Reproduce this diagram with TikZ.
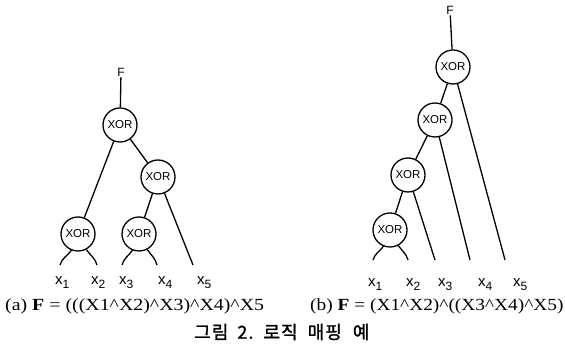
\documentclass[tikz,border=0pt]{standalone}
\usepackage{fontspec}
\setmainfont{Liberation Serif}
\setsansfont{Liberation Sans}
\newfontfamily\krfont[FakeBold=1.5,LetterSpace=6]{Noto Sans CJK KR}
\newcommand{\lsub}[1]{\raisebox{-4pt}{\fontsize{12}{12}\selectfont #1}}
\newcommand{\crt}{\textasciicircum}
\tikzset{
  xor/.style={circle, draw, line width=1.3pt, minimum size=34pt, inner sep=0pt,
    font=\sffamily\fontsize{11.5}{11.5}\selectfont},
  edge/.style={line width=1.3pt},
  leaf/.style={font=\sffamily\fontsize{15}{15}\selectfont, inner sep=0pt, anchor=base west},
  flabel/.style={font=\sffamily\fontsize{12}{12}\selectfont, inner sep=1pt},
  capt/.style={inner sep=0pt, anchor=west}
}
\begin{document}
\begin{tikzpicture}[x=1pt,y=1pt]
\useasboundingbox (0,0) rectangle (565,345);
% ---------- left tree ----------
\node[flabel] (Fa) at (121,273) {F};
\node[xor] (A1) at (120,220) {XOR};
\node[xor] (A2) at (158,168) {XOR};
\node[xor] (A3) at (78,111) {XOR};
\node[xor] (A4) at (139,111) {XOR};
\coordinate (a1e) at (60,80);
\coordinate (a2e) at (97,80);
\coordinate (a3e) at (122,80);
\coordinate (a4e) at (157,80);
\coordinate (a5e) at (193,80);
\draw[edge] (Fa) -- (A1);
\draw[edge] (A1) -- (A2);
\draw[edge] (A1) -- (A3);
\draw[edge] (A2) -- (A4);
\draw[edge] (A2) -- (a5e);
\draw[edge] (A3.-112) to[out=-125,in=75] (a1e);
\draw[edge] (A3.-62) to[out=-55,in=105] (a2e);
\draw[edge] (A4.-112) to[out=-125,in=75] (a3e);
\draw[edge] (A4.-62) to[out=-55,in=105] (a4e);
\node[leaf] (la1) at (55,60) {x\lsub{1}};
\node[leaf] (la2) at (91,60) {x\lsub{2}};
\node[leaf] (la3) at (119,60) {x\lsub{3}};
\node[leaf] (la4) at (158,60) {x\lsub{4}};
\node[leaf] (la5) at (197,60) {x\lsub{5}};
% ---------- right tree ----------
\node[flabel] (Fb) at (450,335) {F};
\node[xor] (B1) at (453,278) {XOR};
\node[xor] (B2) at (435,225) {XOR};
\node[xor] (B3) at (408,170) {XOR};
\node[xor] (B4) at (390,115) {XOR};
\coordinate (b1e) at (373,85);
\coordinate (b2e) at (408,85);
\coordinate (b3e) at (435,85);
\coordinate (b4e) at (470,85);
\coordinate (b5e) at (505,85);
\draw[edge] (Fb) -- (B1);
\draw[edge] (B1) -- (B2);
\draw[edge] (B2) -- (B3);
\draw[edge] (B3) -- (B4);
\draw[edge] (B1) -- (b5e);
\draw[edge] (B2) -- (b4e);
\draw[edge] (B3) -- (b3e);
\draw[edge] (B4.-112) to[out=-125,in=75] (b1e);
\draw[edge] (B4.-62) to[out=-55,in=105] (b2e);
\node[leaf] (lb1) at (368,58) {x\lsub{1}};
\node[leaf] (lb2) at (406,58) {x\lsub{2}};
\node[leaf] (lb3) at (438,58) {x\lsub{3}};
\node[leaf] (lb4) at (478,58) {x\lsub{4}};
\node[leaf] (lb5) at (513,58) {x\lsub{5}};
% ---------- captions ----------
\node[capt] (ca) at (5,39) {\scalebox{1.17}[1]{\fontsize{17}{17}\selectfont (a) \textbf{F} = (((X1\crt X2)\crt X3)\crt X4)\crt X5}};
\node[capt] (cb) at (310,39) {\scalebox{1.14}[1]{\fontsize{17}{17}\selectfont (b) \textbf{F} = (X1\crt X2)\crt((X3\crt X4)\crt X5)}};
\node[inner sep=0pt, anchor=west] (ck) at (194,13) {\krfont\fontsize{18}{18}\selectfont 그림\hspace{9pt}2.\hspace{10pt}로직\hspace{10pt}매핑\hspace{11pt}예};
\end{tikzpicture}
\end{document}
